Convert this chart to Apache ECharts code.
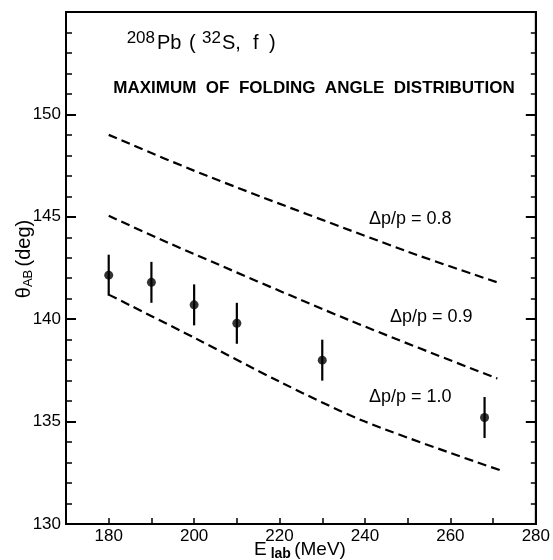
<!DOCTYPE html>
<html>
<head>
<meta charset="utf-8">
<script src="https://cdn.jsdelivr.net/npm/echarts@6/dist/echarts.min.js"></script>
<style>
html,body{margin:0;padding:0;background:#fff;}
#c{width:553px;height:560px;}
</style>
</head>
<body>
<div id="c"></div>
<script>
// Measured data points (lab energy in MeV, folding angle maximum in deg, error in deg)
const energy = [180, 190, 200, 210, 230, 268];
const theta = [142.15, 141.8, 140.7, 139.8, 138.0, 135.2];
const thetaErr = [1.0, 1.0, 1.0, 1.0, 1.0, 1.0];

// Calculated curves
const curve08E = [180, 203, 250, 271];
const curve08T = [149.0, 147.0, 143.3, 141.8];
const curve09E = [180, 193.5, 236, 271];
const curve09T = [145.05, 143.77, 139.98, 137.1];
const curve10E = [180, 200, 220, 240, 272];
const curve10T = [141.2, 139.1, 136.95, 135.0, 132.6];

const curveLabels = ['\u0394p/p = 0.8', '\u0394p/p = 0.9', '\u0394p/p = 1.0'];

const xTickLabels = [180, 200, 220, 240, 260, 280];
const yTickLabels = [130, 135, 140, 145, 150];

const FONT = 'Liberation Sans';
const chart = echarts.init(document.getElementById('c'), null, {renderer: 'canvas', width: 553, height: 560});

function pairs(xs, ys) { return xs.map((x, i) => [x, ys[i]]); }

const dashStyle = {color: '#000', width: 2.2, type: [9, 5]};

function txt(x, y, s, size, extra) {
  return Object.assign({type: 'text', x: x, y: y,
    style: Object.assign({text: s, fontSize: size, fontFamily: FONT, fill: '#000', align: 'left', verticalAlign: 'middle'}, extra || {})});
}

const option = {
  animation: false,
  backgroundColor: '#fff',
  grid: {left: 66, right: 8, top: 12, bottom: 36, show: true, borderColor: '#000', borderWidth: 2},
  xAxis: {
    type: 'value', min: 170, max: 280, interval: 10,
    axisLine: {lineStyle: {color: '#000', width: 2}},
    axisTick: {inside: true, length: 6, lineStyle: {color: '#000', width: 1.5}},
    splitLine: {show: false},
    axisLabel: {
      color: '#000', fontSize: 17, fontFamily: FONT, margin: 4,
      formatter: v => xTickLabels.includes(v) ? String(v) : ''
    }
  },
  yAxis: [{
    type: 'value', min: 130, max: 155, interval: 5,
    axisLine: {show: true, lineStyle: {color: '#000', width: 2}},
    axisTick: {inside: true, length: 10, lineStyle: {color: '#000', width: 2}},
    minorTick: {show: true, splitNumber: 5, length: 6, lineStyle: {color: '#000', width: 1.5}},
    splitLine: {show: false},
    axisLabel: {
      color: '#000', fontSize: 17, fontFamily: FONT, margin: 5,
      formatter: v => yTickLabels.includes(v) ? String(v) : ''
    }
  }, {
    type: 'value', min: 130, max: 155, interval: 5, position: 'right',
    axisLine: {show: true, lineStyle: {color: '#000', width: 2}},
    axisTick: {inside: true, length: 10, lineStyle: {color: '#000', width: 2}},
    minorTick: {show: true, splitNumber: 5, length: 5, lineStyle: {color: '#000', width: 1.5}},
    splitLine: {show: false},
    axisLabel: {show: false}
  }],
  series: [
    {type: 'line', data: pairs(curve08E, curve08T), smooth: 0.3, symbol: 'none', lineStyle: dashStyle},
    {type: 'line', data: pairs(curve09E, curve09T), smooth: 0.3, symbol: 'none', lineStyle: dashStyle},
    {type: 'line', data: pairs(curve10E, curve10T), smooth: 0.3, symbol: 'none', lineStyle: dashStyle},
    {
      type: 'custom',
      data: energy.map((e, i) => [e, theta[i], thetaErr[i]]),
      renderItem: function (params, api) {
        const x = api.value(0), y = api.value(1), e = api.value(2);
        const p1 = api.coord([x, y - e]);
        const p2 = api.coord([x, y + e]);
        return {type: 'line', shape: {x1: p1[0], y1: p1[1], x2: p2[0], y2: p2[1]}, style: {stroke: '#000', lineWidth: 2.2}};
      },
      z: 3
    },
    {type: 'scatter', data: pairs(energy, theta), symbol: 'circle', symbolSize: 9, itemStyle: {color: '#000'}, z: 4}
  ],
  graphic: [
    txt(155, 38, '208', 17, {align: 'right'}),
    txt(157, 43, 'Pb', 20),
    txt(189, 43, '(', 20),
    txt(221, 38, '32', 17, {align: 'right'}),
    txt(222, 43, 'S,', 20),
    txt(253, 43, 'f', 20),
    txt(269, 43, ')', 20),
    txt(314, 88, 'MAXIMUM  OF  FOLDING  ANGLE  DISTRIBUTION', 17, {fontWeight: 'bold', align: 'center'}),
    txt(369, 219, curveLabels[0], 18),
    txt(390, 317, curveLabels[1], 18),
    txt(369, 397, curveLabels[2], 18),
    {
      type: 'text', x: 300, y: 550,
      style: {
        text: '{m|E}{s| lab} {m|(MeV)}',
        align: 'center', verticalAlign: 'middle',
        rich: {
          m: {fontSize: 19, fontFamily: FONT, fill: '#000', lineHeight: 22, verticalAlign: 'middle'},
          s: {fontSize: 14, fontWeight: 'bold', fontFamily: FONT, fill: '#000', lineHeight: 13, verticalAlign: 'bottom'}
        }
      }
    },
    {
      type: 'text', x: 24, y: 259, rotation: Math.PI / 2,
      style: {
        text: '{m|\u03B8}{s|AB} {m|(deg)}',
        align: 'center', verticalAlign: 'middle',
        rich: {
          m: {fontSize: 20, fontFamily: FONT, fill: '#000', lineHeight: 22, verticalAlign: 'middle'},
          s: {fontSize: 13, fontFamily: FONT, fill: '#000', lineHeight: 12, verticalAlign: 'bottom'}
        }
      }
    }
  ]
};
chart.setOption(option);
</script>
</body>
</html>
